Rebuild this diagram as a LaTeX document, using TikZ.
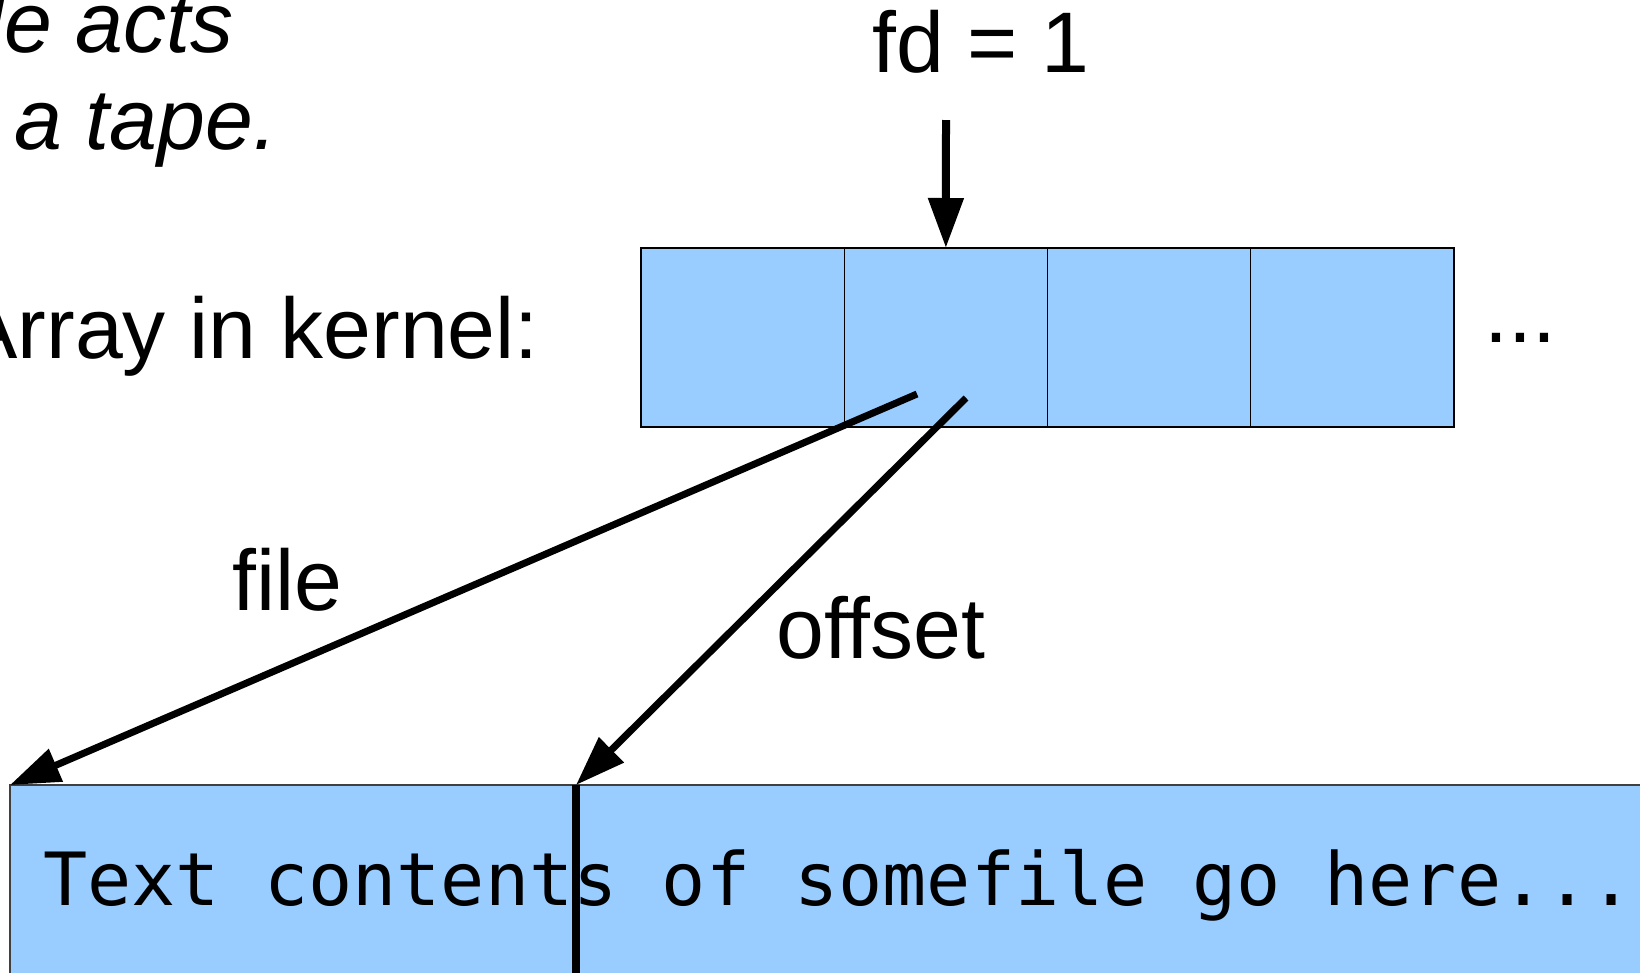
\documentclass[tikz,border=0pt]{standalone}
\usepackage{fontspec}
\setmainfont{Liberation Sans}
\newfontfamily\tapefont{DejaVu Sans Mono}
\usetikzlibrary{arrows.meta}
\definecolor{cellblue}{HTML}{99CCFF}

\begin{document}
\begin{tikzpicture}[x=1pt,y=-1pt,
  label/.style={inner sep=0pt, anchor=base west, font=\fontsize{86}{100}\selectfont},
  cell/.style={draw=black, line width=1.2pt, fill=cellblue, minimum width=203.25pt,
               minimum height=179pt, inner sep=0pt, outer sep=0pt, anchor=north west},
  pointer/.style={line width=7pt, -{Triangle[length=50pt,width=34pt]}},
]
\useasboundingbox (0,0) rectangle (1640,972);
\clip (0,0) rectangle (1640,972);
\fill[white] (0,0) rectangle (1640,972);

% caption in the top left corner
\node[label, font=\fontsize{86}{100}\selectfont\itshape] (capA) at (-15,52) {le acts};
\node[label, font=\fontsize{86}{100}\selectfont\itshape] (capB) at (14,149) {a tape.};

% the descriptor array
\node[label, anchor=base east] (arrlabel) at (539,358) {Array in kernel:};
\node[cell] (c0) at (641,248) {};
\node[cell] (c1) at (c0.north east) {};
\node[cell] (c2) at (c1.north east) {};
\node[cell] (c3) at (c2.north east) {};
\node[label] (more) at (1484,342) {...};

% fd = 1 points at the second slot
\node[label] (fd) at (872,72) {fd = 1};
\coordinate (fdtail) at (946,120);
\draw[line width=8pt, -{Triangle[length=50pt,width=34pt]}] (fdtail) -- (c1.north);

% the file contents
\node[draw=black!75, line width=1.5pt, fill=cellblue, anchor=north west, outer sep=0pt,
      minimum width=1700pt, minimum height=260pt] (tape) at (10,785) {};
\node[inner sep=0pt, anchor=base west, font=\tapefont\fontsize{73.4}{80}\selectfont]
      (contents) at (43,905) {Text contents of somefile go here...};
\coordinate (mark) at (576,785);
\coordinate (markend) at (576,990);
\draw[line width=8pt] (mark) -- (markend);

% the slot's two fields
\coordinate (fstart) at (917,394);
\coordinate (ostart) at (966,398);
\draw[pointer] (fstart) -- (tape.north west);
\draw[pointer] (ostart) -- (mark);
\node[label] (filelab) at (232,610) {file};
\node[label] (offlab) at (776,658) {offset};
\end{tikzpicture}
\end{document}
